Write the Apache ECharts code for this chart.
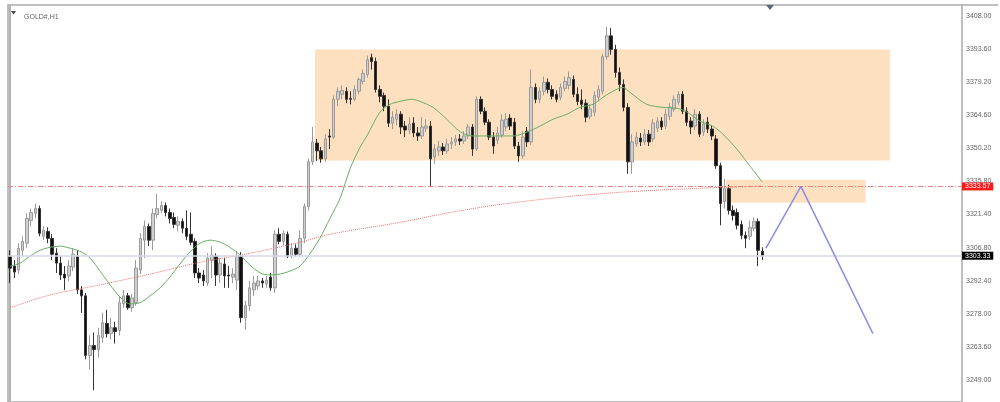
<!DOCTYPE html>
<html><head><meta charset="utf-8">
<script src="https://cdn.jsdelivr.net/npm/echarts@6/dist/echarts.min.js"></script>
<style>html,body{margin:0;padding:0;background:#fff}#c{width:1000px;height:402px}</style>
</head><body><div id="c"></div>
<script>
const symbolName = 'GOLD#,H1';
const slotCount = 227;
// [open, close, low, high]
const candleOHLC = [
[3303.1,3297.9,3291.4,3305.7],[3298.8,3296.2,3293.6,3301.4],[3297.1,3306.6,3295.3,3308.8],[3305.7,3309.6,3303.1,3311.8],
[3308.8,3319.6,3306.6,3321.8],[3318.7,3322.2,3316.1,3323.9],[3321.8,3323.9,3319.6,3326.1],[3323.9,3313.1,3311.8,3325.2],
[3311.8,3314.4,3310.1,3316.1],[3313.9,3310.9,3308.8,3315.7],[3310.9,3304.0,3301.4,3312.7],[3304.4,3300.1,3295.8,3306.6],
[3300.1,3294.9,3292.7,3303.1],[3295.3,3293.6,3288.4,3298.8],[3294.5,3298.8,3292.3,3301.4],[3298.4,3304.0,3296.6,3306.6],
[3303.1,3288.4,3286.7,3305.7],[3288.4,3285.8,3278.4,3290.1],[3285.8,3259.8,3258.1,3287.1],[3259.8,3264.1,3253.7,3268.5],
[3264.1,3262.4,3244.6,3269.8],[3262.4,3268.5,3258.9,3271.9],[3267.6,3274.1,3265.4,3278.4],[3273.7,3269.3,3267.6,3279.7],
[3269.3,3271.9,3266.7,3276.3],[3271.9,3270.2,3265.0,3274.5],[3270.6,3282.8,3268.5,3285.8],[3282.3,3285.8,3280.6,3288.4],
[3285.8,3280.6,3279.7,3287.1],[3280.6,3284.9,3278.9,3286.7],[3282.8,3297.9,3281.5,3301.4],[3297.1,3310.9,3295.3,3313.1],
[3310.1,3316.1,3302.3,3318.7],[3316.1,3310.1,3307.5,3317.4],[3310.1,3321.8,3305.7,3323.9],[3321.3,3323.9,3319.6,3330.4],
[3323.1,3325.2,3321.8,3327.0],[3325.2,3322.2,3320.5,3326.5],[3322.2,3319.6,3317.4,3323.9],[3320.0,3317.0,3315.3,3322.2],
[3316.6,3318.3,3313.9,3320.5],[3318.3,3315.3,3313.1,3319.6],[3315.3,3311.8,3310.1,3323.1],[3312.7,3309.2,3307.9,3322.2],
[3309.6,3295.8,3293.6,3310.9],[3295.8,3293.6,3291.4,3297.9],[3294.9,3292.3,3290.1,3297.1],[3291.4,3302.3,3290.1,3304.4],
[3301.4,3303.6,3293.6,3307.5],[3303.1,3294.9,3290.1,3304.4],[3294.9,3300.1,3291.4,3302.3],[3299.7,3294.5,3289.3,3302.3],
[3294.9,3294.5,3289.3,3298.8],[3294.0,3295.3,3291.4,3297.9],[3292.7,3303.1,3288.4,3305.3],[3303.1,3276.3,3274.1,3304.9],
[3276.3,3281.5,3271.1,3283.6],[3281.5,3289.3,3279.3,3292.3],[3288.4,3291.4,3285.8,3294.5],[3290.1,3292.3,3288.4,3294.5],
[3292.3,3291.4,3289.3,3293.6],[3291.0,3292.7,3289.3,3294.5],[3294.0,3289.3,3288.0,3295.8],[3289.3,3312.7,3287.1,3314.4],
[3312.7,3309.6,3308.3,3315.3],[3309.6,3313.1,3307.9,3314.4],[3312.7,3303.1,3302.3,3313.9],[3303.1,3306.6,3302.3,3308.8],
[3306.6,3304.0,3303.1,3308.3],[3304.0,3310.9,3303.1,3314.4],[3310.9,3324.8,3308.8,3326.1],[3324.8,3344.3,3323.1,3345.6],
[3344.3,3353.0,3343.0,3359.5],[3352.5,3349.1,3344.7,3354.3],[3349.1,3345.6,3343.9,3350.8],[3345.6,3354.3,3344.3,3356.4],
[3355.6,3355.1,3349.9,3358.6],[3355.1,3371.6,3354.3,3373.3],[3371.6,3375.1,3368.6,3376.8],[3373.8,3375.5,3371.6,3377.7],
[3375.1,3371.6,3369.9,3376.8],[3372.0,3371.6,3369.4,3375.1],[3371.6,3375.9,3370.7,3377.7],[3375.1,3380.3,3373.8,3381.1],
[3379.4,3382.9,3378.1,3384.6],[3382.4,3388.9,3381.1,3390.7],[3389.8,3388.1,3384.6,3391.5],[3388.1,3375.9,3374.6,3389.8],
[3375.9,3372.9,3370.3,3377.7],[3373.3,3368.6,3366.4,3374.6],[3368.6,3361.2,3359.5,3371.6],[3361.2,3363.8,3358.6,3366.4],
[3362.9,3365.1,3360.3,3367.3],[3365.1,3359.5,3356.4,3366.4],[3359.9,3358.2,3355.1,3362.1],[3358.2,3360.8,3356.4,3363.8],
[3361.2,3356.9,3355.1,3363.8],[3356.9,3355.6,3353.4,3359.5],[3355.6,3359.5,3354.3,3363.8],[3359.0,3359.9,3357.3,3362.9],
[3359.9,3345.6,3333.5,3362.1],[3346.5,3349.9,3343.4,3352.1],[3349.1,3350.8,3346.9,3353.4],[3350.8,3349.1,3347.3,3352.5],
[3349.1,3352.1,3347.8,3354.3],[3352.1,3353.0,3349.9,3355.1],[3353.0,3354.3,3351.2,3356.0],[3354.3,3353.4,3351.7,3356.4],
[3353.4,3355.6,3352.1,3357.7],[3355.6,3359.5,3354.3,3360.8],[3359.5,3349.9,3346.9,3360.8],[3349.9,3371.6,3349.1,3372.9],
[3371.6,3366.4,3365.1,3372.9],[3366.4,3361.6,3360.3,3368.1],[3361.6,3355.1,3353.8,3362.9],[3355.1,3351.2,3347.8,3357.3],
[3353.8,3356.9,3352.1,3359.5],[3356.0,3362.5,3354.7,3365.1],[3359.5,3362.9,3357.7,3365.5],[3363.4,3359.9,3358.2,3365.1],
[3361.6,3351.2,3349.9,3363.4],[3351.2,3346.9,3344.3,3353.0],[3346.9,3355.1,3345.6,3357.7],[3357.7,3353.0,3350.8,3359.5],
[3353.0,3376.8,3351.7,3384.6],[3376.8,3371.6,3369.9,3378.5],[3371.6,3375.1,3369.9,3376.8],[3375.1,3379.0,3373.3,3381.6],
[3379.0,3375.9,3374.2,3380.7],[3375.9,3372.9,3371.6,3377.7],[3373.8,3371.6,3370.3,3375.5],[3372.5,3376.8,3371.2,3378.5],
[3376.4,3379.4,3375.1,3381.6],[3377.7,3381.1,3375.9,3383.7],[3380.3,3373.8,3372.5,3382.0],[3373.8,3370.7,3369.0,3376.8],
[3371.2,3369.4,3367.3,3375.9],[3369.9,3363.8,3361.6,3371.6],[3364.2,3367.3,3362.9,3369.4],[3366.0,3373.3,3364.2,3375.1],
[3372.5,3375.9,3370.7,3377.7],[3375.1,3390.2,3373.8,3391.5],[3390.2,3399.3,3388.9,3403.2],[3399.3,3393.3,3391.1,3402.8],
[3393.3,3383.3,3381.1,3395.4],[3383.3,3378.1,3375.1,3385.5],[3378.1,3368.1,3366.4,3380.3],[3368.1,3344.3,3339.1,3369.9],
[3344.3,3353.0,3339.1,3356.4],[3352.1,3355.1,3350.8,3357.3],[3354.7,3353.0,3351.2,3356.9],[3353.0,3356.4,3351.7,3358.6],
[3356.4,3353.0,3351.2,3358.2],[3354.3,3361.2,3353.0,3362.9],[3359.0,3362.1,3357.3,3363.8],[3362.1,3359.5,3358.2,3363.8],
[3359.9,3365.1,3358.6,3367.3],[3364.2,3368.1,3362.5,3369.9],[3367.3,3371.6,3366.0,3373.3],[3370.3,3373.8,3369.0,3375.1],
[3373.8,3366.4,3365.1,3375.1],[3366.4,3361.6,3359.9,3368.1],[3362.1,3359.5,3356.4,3363.8],[3359.9,3365.1,3358.2,3367.3],
[3365.1,3356.4,3355.1,3366.4],[3357.3,3360.8,3355.6,3362.9],[3361.6,3358.6,3356.9,3363.8],[3358.6,3355.6,3353.8,3360.3],
[3354.3,3342.6,3341.3,3356.0],[3342.6,3326.1,3316.6,3343.9],[3327.0,3332.6,3323.9,3336.9],[3332.6,3323.1,3321.3,3334.3],
[3323.1,3320.9,3318.7,3325.2],[3322.2,3316.6,3314.8,3323.9],[3317.0,3312.2,3310.5,3318.7],[3312.2,3310.9,3306.6,3313.9],
[3311.8,3315.7,3310.1,3318.7],[3315.3,3318.3,3313.9,3320.0],[3318.3,3305.7,3298.8,3319.6],[3305.3,3303.33,3301.4,3307.0]
];
// moving averages: [bar position, price]
const ma20Points = [
[0,3298.8],[2.4,3300.1],[4.7,3303.1],[7.1,3305.7],[9.5,3307.0],[11.9,3307.5],[14.3,3306.6],[16.6,3305.3],
[19,3302.3],[21.4,3296.6],[23.8,3290.6],[26.1,3285.4],[28.5,3282.3],[30.9,3282.8],[33.3,3285.8],[35.7,3289.3],
[38,3294.0],[40.4,3299.7],[42.8,3304.9],[45.2,3308.8],[47.6,3310.1],[50,3309.2],[52.3,3307.0],[54.7,3303.6],
[57.1,3299.2],[59.5,3295.8],[61.8,3294.9],[64.2,3295.3],[66.6,3296.6],[69,3298.8],[71.4,3304.4],[73.7,3310.9],
[76.1,3319.6],[78.5,3328.3],[80.9,3341.3],[83.3,3350.8],[84.9,3355.6],[88,3366.0],[90.4,3369.4],[92.8,3370.7],
[95.6,3371.6],[97.5,3370.7],[100.6,3368.1],[103.9,3362.9],[106.3,3358.6],[108.2,3356.4],[110.1,3355.6],[113.5,3355.6],
[116.6,3355.6],[119.7,3355.6],[123,3357.3],[126.1,3359.9],[129.2,3362.9],[132.5,3365.1],[135.6,3368.1],[138.7,3369.4],
[141.1,3372.5],[143.4,3375.1],[145.8,3376.8],[147.5,3374.6],[151.5,3369.4],[155.3,3368.1],[158.7,3367.7],[161.1,3366.0],
[164.1,3362.1],[167.2,3359.9],[169.6,3356.4],[172.9,3349.9],[176.0,3342.6],[178.9,3335.6]
];
const ma200Points = [
[0,3280.6],[9.5,3286.2],[21.4,3290.6],[33.3,3295.3],[45.2,3300.5],[57.1,3304.4],[69,3309.2],[76.1,3312.7],
[92.8,3317.9],[104.7,3322.2],[116.6,3325.7],[132.5,3329.1],[147.5,3331.3],[167.2,3333.0],[178.9,3333.7]
];
const yTicks = [3249.00,3263.60,3278.00,3292.40,3306.80,3321.40,3335.80,3350.20,3364.60,3379.20,3393.60,3408.00];
const bidPrice = 3303.33;
const levelPrice = 3333.57;
const zoneBoxes = [[72.54,3393.3,209.35,3344.9],[170.33,3336.5,203.57,3326.4]];
const projection = [[179.85,3306.6],[188.17,3333.6],[205.3,3269.35]];
const categories = Array.from({length: slotCount}, (_, i) => 'B' + i);

const chart = echarts.init(document.getElementById('c'));
const FONT = 'Liberation Sans';
chart.setOption({
  animation: false,
  backgroundColor: '#fff',
  title: {text: symbolName, left: 19, top: 9, textStyle: {fontSize: 7, color: '#666', fontWeight: 'normal', fontFamily: FONT}},
  grid: {left: 8, right: 38, top: 5, bottom: -3, show: true, borderColor: '#ababab', borderWidth: 1.5},
  xAxis: [
    {type: 'category', data: categories, boundaryGap: true, show: false},
    {type: 'value', min: -0.5, max: slotCount - 0.5, show: false}
  ],
  yAxis: {
    type: 'value', position: 'right', min: 3239.47, max: 3412.77,
    axisLine: {show: true, lineStyle: {color: '#b4b4b4', width: 2}},
    axisTick: {show: false},
    axisLabel: {customValues: yTicks, formatter: v => v.toFixed(2), fontSize: 7, color: '#666', margin: 4, fontFamily: FONT},
    splitLine: {show: false}
  },
  graphic: [
    {type: 'polygon', shape: {points: [[11,11],[16,11],[13.5,14.5]]}, style: {fill: '#444'}},
    {type: 'polygon', shape: {points: [[766,5],[774,5],[770,10]]}, style: {fill: '#5a6a80'}},
    {type: 'line', shape: {x1: 962, y1: 5, x2: 998, y2: 5}, style: {stroke: '#ababab', lineWidth: 1.5}}
  ],
  series: [
    {
      type: 'line', xAxisIndex: 1, data: [], z: 1, silent: true,
      markArea: {silent: true, itemStyle: {color: '#fde0c0'},
        data: zoneBoxes.map(b => [{coord: [b[0], b[1]]}, {coord: [b[2], b[3]]}])},
      markLine: {silent: true, symbol: ['none', 'none'], animation: false,
        data: [
          {yAxis: bidPrice, lineStyle: {color: '#d4d8e6', width: 1.5, type: 'solid'},
           label: {show: true, position: 'end', distance: 0, formatter: bidPrice.toFixed(2), color: '#fff', backgroundColor: '#000', fontSize: 7, padding: [1, 3, 0, 3], fontFamily: FONT}},
          {yAxis: levelPrice, lineStyle: {color: '#f08080', width: 1, type: [5, 2, 1, 2]},
           label: {show: true, position: 'end', distance: 0, formatter: levelPrice.toFixed(2), color: '#fff', backgroundColor: '#ff1a1a', fontSize: 7, padding: [1, 3, 0, 3], fontFamily: FONT}}
        ]}
    },
    {
      type: 'candlestick', data: candleOHLC, barWidth: 3, z: 3,
      itemStyle: {color: '#cfcfcf', color0: '#111', borderColor: '#9a9a9a', borderColor0: '#333', borderWidth: 1}
    },
    {type: 'line', xAxisIndex: 1, data: ma200Points, smooth: 0.3, showSymbol: false, silent: true, z: 4,
     lineStyle: {color: '#f07070', width: 1, type: 'dotted'}},
    {type: 'line', xAxisIndex: 1, data: ma20Points, smooth: 0.3, showSymbol: false, silent: true, z: 4,
     lineStyle: {color: '#6aae64', width: 1}},
    {type: 'line', xAxisIndex: 1, data: projection, showSymbol: false, silent: true, z: 5,
     lineStyle: {color: '#8c8ce6', width: 1.5}}
  ]
});
</script></body></html>
